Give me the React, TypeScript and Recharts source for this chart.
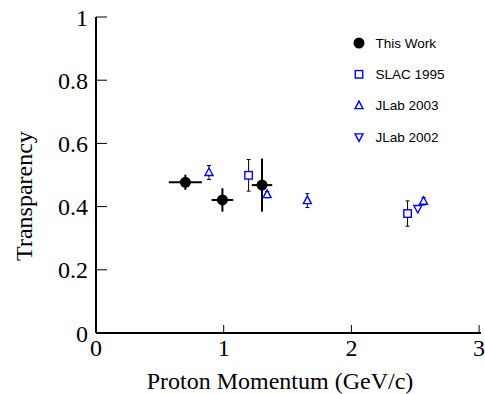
import React from 'react';
import { ScatterChart, Scatter, XAxis, YAxis, ErrorBar, Label } from 'recharts';

// This Work
const thisWorkP = [0.7, 0.99, 1.3];
const thisWorkT = [0.477, 0.421, 0.468];
const thisWorkPErr = [0.13, 0.085, 0.08];
const thisWorkTErr = [0.024, 0.037, 0.084];

// SLAC 1995
const slacP = [1.195, 2.44];
const slacT = [0.499, 0.378];
const slacTErr = [0.05, 0.04];

// JLab 2003
const jlab03P = [0.885, 1.34, 1.655, 2.565];
const jlab03T = [0.508, 0.438, 0.419, 0.417];
const jlab03TErr = [0.022, 0.01, 0.022, 0.012];

// JLab 2002
const jlab02P = [2.52];
const jlab02T = [0.394];
const jlab02TErr = [0.01];

const xTicks = [0, 1, 2, 3];
const yTicks = [0, 0.2, 0.4, 0.6, 0.8, 1];

const BLUE = '#0000ff';
const SERIF = '"Liberation Serif", "Times New Roman", serif';
const SANS = '"Liberation Sans", Arial, sans-serif';

const thisWork = thisWorkP.map((p, i) => ({ p, t: thisWorkT[i], ex: thisWorkPErr[i], ey: thisWorkTErr[i] }));
const slac = slacP.map((p, i) => ({ p, t: slacT[i], ey: slacTErr[i] }));
const jlab03 = jlab03P.map((p, i) => ({ p, t: jlab03T[i], ey: jlab03TErr[i] }));
const jlab02 = jlab02P.map((p, i) => ({ p, t: jlab02T[i], ey: jlab02TErr[i] }));

const Dot = (props: any) => <circle cx={props.cx} cy={props.cy} r={5.5} fill="#000" />;
const Square = (props: any) => (
  <rect x={props.cx - 3.75} y={props.cy - 3.75} width={7.5} height={7.5} fill="#fff" stroke={BLUE} strokeWidth={1.4} />
);
const TriUp = (props: any) => {
  const { cx, cy } = props;
  return <polygon points={`${cx},${cy - 4.5} ${cx - 4},${cy + 3} ${cx + 4},${cy + 3}`} fill="#fff" stroke={BLUE} strokeWidth={1.4} />;
};
const TriDown = (props: any) => {
  const { cx, cy } = props;
  return <polygon points={`${cx},${cy + 4.5} ${cx - 4},${cy - 3} ${cx + 4},${cy - 3}`} fill="#fff" stroke={BLUE} strokeWidth={1.4} />;
};

const legendItems = [
  { name: 'This Work', icon: (x: number, y: number) => <circle cx={x} cy={y} r={5.5} fill="#000" /> },
  { name: 'SLAC 1995', icon: (x: number, y: number) => <Square cx={x} cy={y} /> },
  { name: 'JLab 2003', icon: (x: number, y: number) => <TriUp cx={x} cy={y} /> },
  { name: 'JLab 2002', icon: (x: number, y: number) => <TriDown cx={x} cy={y} /> },
];

export default function App() {
  return (
    <div style={{ position: 'absolute', left: 0, top: 0, width: 485, height: 394, background: '#fff' }}>
      <ScatterChart width={485} height={394} margin={{ top: 17, right: 4, bottom: 0, left: 0 }}>
        <XAxis
          type="number"
          dataKey="p"
          domain={[0, 3.015]}
          ticks={xTicks}
          allowDataOverflow
          height={61}
          tickSize={-8}
          tickMargin={14}
          tick={{ fontSize: 24, fill: '#000', fontFamily: SERIF }}
          tickLine={{ stroke: '#000', strokeWidth: 1 }}
          axisLine={{ stroke: '#000', strokeWidth: 2 }}
        >
          <Label
            content={() => (
              <text x={280} y={389} textAnchor="middle" fontSize={24} fontFamily={SERIF} fill="#000">
                Proton Momentum (GeV/c)
              </text>
            )}
          />
        </XAxis>
        <XAxis xAxisId="top" orientation="top" type="number" dataKey="p" domain={[0, 3.015]} height={0} tick={false} tickLine={false} axisLine={{ stroke: '#888', strokeWidth: 1 }} />
        <YAxis
          type="number"
          dataKey="t"
          domain={[0, 1]}
          ticks={yTicks}
          width={96}
          tickSize={-11}
          tickMargin={19}
          tickFormatter={(v: number) => String(v)}
          tick={{ fontSize: 24, fill: '#000', fontFamily: SERIF }}
          tickLine={{ stroke: '#000', strokeWidth: 1 }}
          axisLine={{ stroke: '#000', strokeWidth: 2 }}
        >
          <Label
            content={() => (
              <text x={32} y={196} transform="rotate(-90 32 196)" textAnchor="middle" fontSize={24} fontFamily={SERIF} fill="#000">
                Transparency
              </text>
            )}
          />
        </YAxis>
        <YAxis yAxisId="right" orientation="right" type="number" dataKey="t" domain={[0, 1]} width={0} tick={false} tickLine={false} axisLine={{ stroke: '#888', strokeWidth: 1 }} />

        <Scatter data={slac} shape={Square} isAnimationActive={false}>
          <ErrorBar dataKey="ey" direction="y" width={2} stroke="#000" strokeWidth={1} />
        </Scatter>
        <Scatter data={jlab03} shape={TriUp} isAnimationActive={false}>
          <ErrorBar dataKey="ey" direction="y" width={2} stroke="#000" strokeWidth={1} />
        </Scatter>
        <Scatter data={jlab02} shape={TriDown} isAnimationActive={false}>
          <ErrorBar dataKey="ey" direction="y" width={0} stroke="#000" strokeWidth={1} />
        </Scatter>
        <Scatter data={thisWork} shape={Dot} isAnimationActive={false}>
          <ErrorBar dataKey="ex" direction="x" width={0} stroke="#000" strokeWidth={2} />
          <ErrorBar dataKey="ey" direction="y" width={0} stroke="#000" strokeWidth={2} />
        </Scatter>
      </ScatterChart>

      <svg style={{ position: 'absolute', left: 340, top: 30 }} width={140} height={125}>
        {legendItems.map((it, i) => (
          <g key={it.name}>
            {it.icon(19, 13 + i * 31.3)}
            <text x={35.5} y={13 + i * 31.3} dy="0.35em" fontSize={13.5} fontFamily={SANS} fill="#000">
              {it.name}
            </text>
          </g>
        ))}
      </svg>
    </div>
  );
}
